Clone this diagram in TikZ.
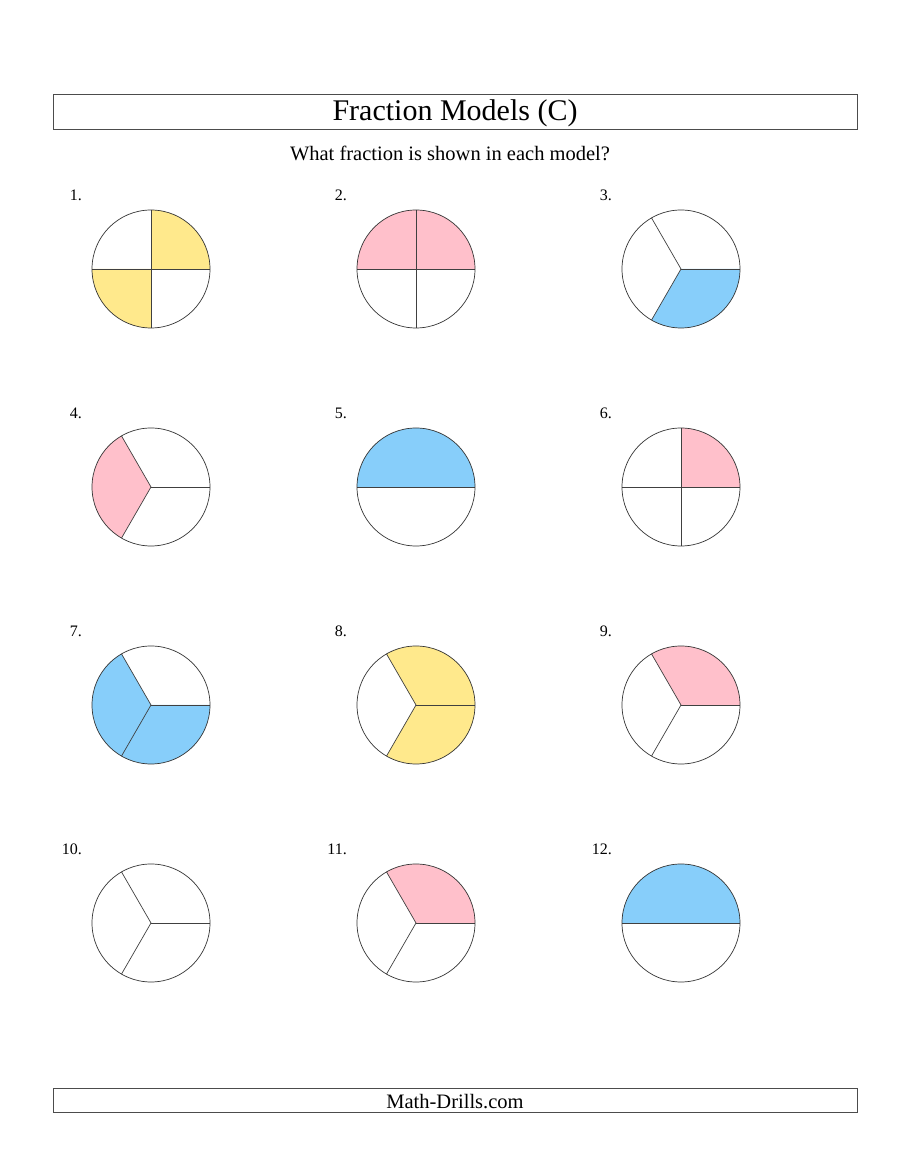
\documentclass[tikz,border=0pt]{standalone}
\usepackage{fontspec}
\setmainfont{Liberation Serif}
\usepackage{tikz}
\usetikzlibrary{calc}

\definecolor{fracyellow}{RGB}{255,233,140}
\definecolor{fracpink}{RGB}{255,192,203}
\definecolor{fracblue}{RGB}{135,206,250}

\begin{document}
\begin{tikzpicture}[x=1pt,y=1pt,
		part/.style={line width=0.7pt,color=black!75},
		rim/.style={line width=0.7pt,color=black!80},
		numlabel/.style={anchor=east,inner sep=0pt,font=\fontsize{16}{19}\selectfont},
		banner/.style={draw=black!70,line width=0.8pt}]
		\useasboundingbox (0,0) rectangle (900,1165);
		
		\draw[banner] (53,1036) rectangle (857,1071);
		\node (title) at (455,1051.5) {\fontsize{30}{36}\selectfont Fraction Models (C)};
		\node (subtitle) at (450,1011.5) {\fontsize{20.5}{24}\selectfont What fraction is shown in each model?};
		
		\draw[banner] (53,53) rectangle (857,77);
		\node (footer) at (455,63.5) {\fontsize{20.5}{24}\selectfont Math-Drills.com};
		
		\coordinate (c1) at (151,896);
		\coordinate (c2) at (416,896);
		\coordinate (c3) at (681,896);
		\coordinate (c4) at (151,678);
		\coordinate (c5) at (416,678);
		\coordinate (c6) at (681,678);
		\coordinate (c7) at (151,460);
		\coordinate (c8) at (416,460);
		\coordinate (c9) at (681,460);
		\coordinate (c10) at (151,242);
		\coordinate (c11) at (416,242);
		\coordinate (c12) at (681,242);
		
		\node[numlabel] (num1) at ($(c1)+(-69,74)$) {1.};
		\node[numlabel] (num2) at ($(c2)+(-69,74)$) {2.};
		\node[numlabel] (num3) at ($(c3)+(-69,74)$) {3.};
		\node[numlabel] (num4) at ($(c4)+(-69,74)$) {4.};
		\node[numlabel] (num5) at ($(c5)+(-69,74)$) {5.};
		\node[numlabel] (num6) at ($(c6)+(-69,74)$) {6.};
		\node[numlabel] (num7) at ($(c7)+(-69,74)$) {7.};
		\node[numlabel] (num8) at ($(c8)+(-69,74)$) {8.};
		\node[numlabel] (num9) at ($(c9)+(-69,74)$) {9.};
		\node[numlabel] (num10) at ($(c10)+(-69,74)$) {10.};
		\node[numlabel] (num11) at ($(c11)+(-69,74)$) {11.};
		\node[numlabel] (num12) at ($(c12)+(-69,74)$) {12.};
		
		
		\fill[fracyellow] (c1) -- ++(0:59) arc (0:90:59) -- cycle;
		\fill[fracyellow] (c1) -- ++(180:59) arc (180:270:59) -- cycle;
		\draw[part] ($(c1)+(0,59)$) -- ($(c1)+(0,-59)$);
		\draw[part] ($(c1)+(-59,0)$) -- ($(c1)+(59,0)$);
		\draw[rim] (c1) circle (59);
		
		\fill[fracpink] (c2) -- ++(0:59) arc (0:180:59) -- cycle;
		\draw[part] ($(c2)+(0,59)$) -- ($(c2)+(0,-59)$);
		\draw[part] ($(c2)+(-59,0)$) -- ($(c2)+(59,0)$);
		\draw[rim] (c2) circle (59);
		
		\fill[fracblue] (c3) -- ++(240:59) arc (240:360:59) -- cycle;
		\draw[part] (c3) -- ++(0:59);
		\draw[part] (c3) -- ++(120:59);
		\draw[part] (c3) -- ++(240:59);
		\draw[rim] (c3) circle (59);
		
		
		\fill[fracpink] (c4) -- ++(120:59) arc (120:240:59) -- cycle;
		\draw[part] (c4) -- ++(0:59);
		\draw[part] (c4) -- ++(120:59);
		\draw[part] (c4) -- ++(240:59);
		\draw[rim] (c4) circle (59);
		
		\fill[fracblue] (c5) -- ++(0:59) arc (0:180:59) -- cycle;
		\draw[part] ($(c5)+(-59,0)$) -- ($(c5)+(59,0)$);
		\draw[rim] (c5) circle (59);
		
		\fill[fracpink] (c6) -- ++(0:59) arc (0:90:59) -- cycle;
		\draw[part] ($(c6)+(0,59)$) -- ($(c6)+(0,-59)$);
		\draw[part] ($(c6)+(-59,0)$) -- ($(c6)+(59,0)$);
		\draw[rim] (c6) circle (59);
		
		
		\fill[fracblue] (c7) -- ++(120:59) arc (120:360:59) -- cycle;
		\draw[part] (c7) -- ++(0:59);
		\draw[part] (c7) -- ++(120:59);
		\draw[part] (c7) -- ++(240:59);
		\draw[rim] (c7) circle (59);
		
		\fill[fracyellow] (c8) -- ++(-120:59) arc (-120:120:59) -- cycle;
		\draw[part] (c8) -- ++(0:59);
		\draw[part] (c8) -- ++(120:59);
		\draw[part] (c8) -- ++(240:59);
		\draw[rim] (c8) circle (59);
		
		\fill[fracpink] (c9) -- ++(0:59) arc (0:120:59) -- cycle;
		\draw[part] (c9) -- ++(0:59);
		\draw[part] (c9) -- ++(120:59);
		\draw[part] (c9) -- ++(240:59);
		\draw[rim] (c9) circle (59);
		
		
		\draw[part] (c10) -- ++(0:59);
		\draw[part] (c10) -- ++(120:59);
		\draw[part] (c10) -- ++(240:59);
		\draw[rim] (c10) circle (59);
		
		\fill[fracpink] (c11) -- ++(0:59) arc (0:120:59) -- cycle;
		\draw[part] (c11) -- ++(0:59);
		\draw[part] (c11) -- ++(120:59);
		\draw[part] (c11) -- ++(240:59);
		\draw[rim] (c11) circle (59);
		
		\fill[fracblue] (c12) -- ++(0:59) arc (0:180:59) -- cycle;
		\draw[part] ($(c12)+(-59,0)$) -- ($(c12)+(59,0)$);
		\draw[rim] (c12) circle (59);
		
\end{tikzpicture}
\end{document}
